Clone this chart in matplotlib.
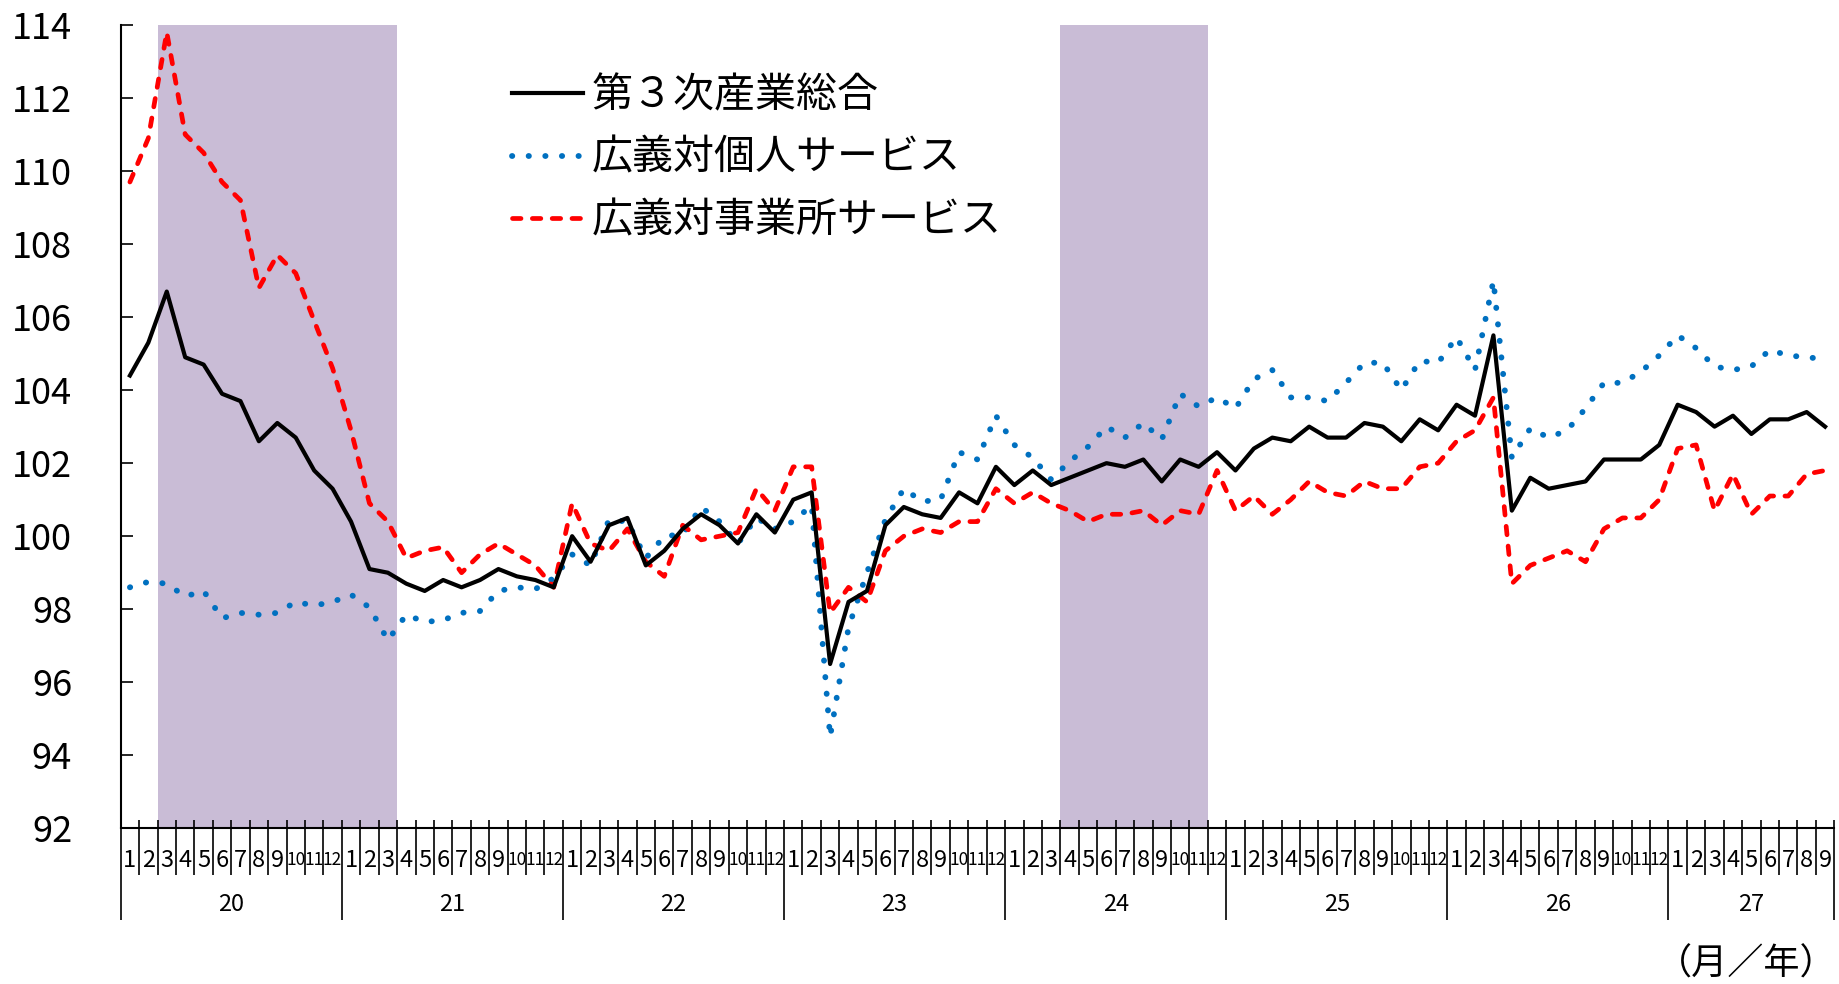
import numpy as np
import pandas as pd
import matplotlib
matplotlib.use("Agg")
import matplotlib.pyplot as plt

plt.rcParams['font.family'] = ['Noto Sans CJK JP', 'DejaVu Sans']

# monthly data, Jan 2008 (H20) .. Sep 2015 (H27)
months = pd.period_range('2008-01', '2015-09', freq='M')

total = [104.4, 105.3, 106.7, 104.9, 104.7, 103.9, 103.7, 102.6, 103.1, 102.7, 101.8, 101.3,
         100.4, 99.1, 99.0, 98.7, 98.5, 98.8, 98.6, 98.8, 99.1, 98.9, 98.8, 98.6,
         100.0, 99.3, 100.3, 100.5, 99.2, 99.6, 100.2, 100.6, 100.3, 99.8, 100.6, 100.1,
         101.0, 101.2, 96.5, 98.2, 98.5, 100.3, 100.8, 100.6, 100.5, 101.2, 100.9, 101.9,
         101.4, 101.8, 101.4, 101.6, 101.8, 102.0, 101.9, 102.1, 101.5, 102.1, 101.9, 102.3,
         101.8, 102.4, 102.7, 102.6, 103.0, 102.7, 102.7, 103.1, 103.0, 102.6, 103.2, 102.9,
         103.6, 103.3, 105.5, 100.7, 101.6, 101.3, 101.4, 101.5, 102.1, 102.1, 102.1, 102.5,
         103.6, 103.4, 103.0, 103.3, 102.8, 103.2, 103.2, 103.4, 103.0]

personal = [98.6, 98.75, 98.7, 98.35, 98.5, 97.75, 97.9, 97.85, 97.9, 98.2, 98.1, 98.2,
            98.4, 98.05, 97.15, 97.85, 97.65, 97.7, 97.9, 97.95, 98.5, 98.6, 98.55, 98.85,
            99.5, 99.2, 100.45, 100.4, 99.4, 100.0, 100.05, 100.8, 100.4, 99.8, 100.5, 100.2,
            100.4, 100.85, 94.5, 97.5, 99.0, 100.45, 101.3, 100.95, 101.0, 102.3, 102.1, 103.3,
            102.5, 102.15, 101.55, 102.05, 102.45, 103.0, 102.7, 103.1, 102.65, 103.9, 103.55, 103.8,
            103.5, 104.3, 104.55, 103.8, 103.8, 103.7, 104.2, 104.75, 104.75, 104.0, 104.8, 104.75,
            105.45, 104.55, 107.0, 102.15, 102.95, 102.7, 102.9, 103.5, 104.2, 104.2, 104.5, 104.95,
            105.5, 105.15, 104.65, 104.55, 104.65, 105.1, 104.95, 104.9, 104.85]

business = [109.7, 110.9, 113.8, 111.0, 110.5, 109.7, 109.2, 106.8, 107.7, 107.2, 105.9, 104.6,
            102.9, 100.9, 100.4, 99.4, 99.6, 99.7, 99.0, 99.5, 99.8, 99.5, 99.2, 98.6,
            100.9, 99.8, 99.6, 100.2, 99.3, 98.9, 100.3, 99.9, 100.0, 100.1, 101.3, 100.7,
            101.9, 101.9, 97.9, 98.6, 98.2, 99.6, 100.0, 100.2, 100.1, 100.4, 100.4, 101.3,
            100.9, 101.2, 100.9, 100.7, 100.4, 100.6, 100.6, 100.7, 100.3, 100.7, 100.6, 101.8,
            100.7, 101.1, 100.6, 101.0, 101.5, 101.2, 101.1, 101.5, 101.3, 101.3, 101.9, 102.0,
            102.6, 102.9, 103.8, 98.7, 99.2, 99.4, 99.6, 99.3, 100.2, 100.5, 100.5, 101.0,
            102.4, 102.5, 100.7, 101.7, 100.6, 101.1, 101.1, 101.7, 101.8]

labels = ['第３次産業総合', '広義対個人サービス', '広義対事業所サービス']

# recession periods (first and last shaded month)
recessions = [('2008-03', '2009-03'), ('2012-04', '2012-11')]

n = len(months)
x = np.arange(n) + 0.5

fig = plt.figure(figsize=(18.39, 9.84), dpi=100)
ax = fig.add_axes([120.7 / 1839, 1 - 828.3 / 984, 1713.6 / 1839, 803.3 / 984])

for start, end in recessions:
    i0 = months.get_loc(pd.Period(start, 'M'))
    i1 = months.get_loc(pd.Period(end, 'M')) + 1
    ax.axvspan(i0, i1, color='#C9BCD6', lw=0, zorder=0)

ax.plot(x, total, color='black', lw=3, label=labels[0], zorder=3)
ax.plot(x, personal, color='#0070C0', lw=4.2, dashes=(0.05, 2.8),
        dash_capstyle='round', label=labels[1], zorder=2)
ax.plot(x, business, color='#FF0000', lw=3.4, dashes=(1.8, 2.4),
        dash_capstyle='round', label=labels[2], zorder=2)

ax.set_xlim(0, n)
ax.set_ylim(92, 114)
ax.set_yticks(np.arange(92, 115, 2))
ax.tick_params(axis='y', direction='in', length=8.6, width=1.2, labelsize=26, pad=35)

# year boundaries as major ticks, month boundaries as minor ticks
year_edges = [i for i, m in enumerate(months) if m.month == 1] + [n]
ax.set_xticks(year_edges)
ax.set_xticklabels([])
ax.set_xticks(np.arange(n + 1), minor=True)
ax.tick_params(axis='x', which='major', direction='out', length=66, width=1.2)
ax.tick_params(axis='x', which='minor', direction='out', length=34, width=1.2)

trans = ax.get_xaxis_transform()
# small part of the month ticks pokes above the axis
ax.vlines(np.arange(n + 1), 0, 0.01, transform=trans, color='black', lw=1.2, clip_on=False)

for sp in ['top', 'right']:
    ax.spines[sp].set_visible(False)
for sp in ['left', 'bottom']:
    ax.spines[sp].set_linewidth(1.5)

for xi, m in zip(x, months):
    fs = 17 if m.month < 10 else 12.5
    ax.text(xi, -0.0395, str(m.month), transform=trans, ha='center', va='center',
            fontsize=fs, clip_on=False)

years = sorted(set(m.year for m in months))
for y in years:
    idx = [i for i, m in enumerate(months) if m.year == y]
    ax.text((idx[0] + idx[-1] + 1) / 2, -0.0954, str(y - 1988), transform=trans,
            ha='center', va='center', fontsize=17, clip_on=False)

fig.text(0.9988, 1 - 965 / 984, '（月／年）', ha='right', va='center', fontsize=26)

ax.legend(loc='upper left', bbox_to_anchor=(0.2282, 0.937), frameon=False,
          fontsize=29.5, handlelength=1.75, handletextpad=0.2, labelspacing=0.52,
          borderpad=0, borderaxespad=0)

fig.savefig('out.png', dpi=100)
